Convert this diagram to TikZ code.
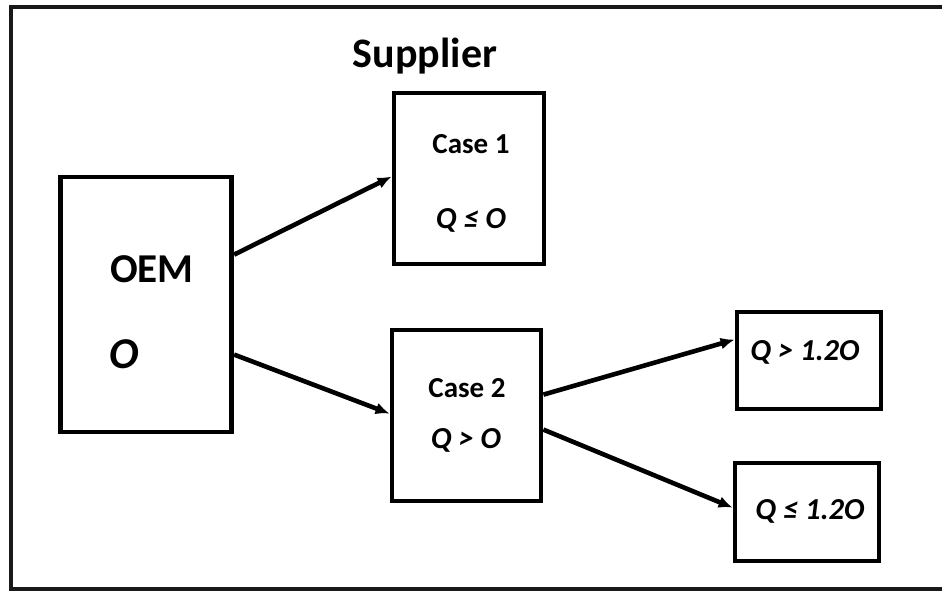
\documentclass[tikz,border=0pt]{standalone}
\usepackage{fontspec}
\setmainfont{Carlito}
\usetikzlibrary{arrows.meta}
\begin{document}
\begin{tikzpicture}[x=1pt,y=-1pt,
  box/.style={draw=black,line width=4.8pt,inner sep=0pt,fill=white},
  lbl/.style={anchor=base,inner sep=0pt,font=\bfseries\fontsize{29}{31}\selectfont},
  qlbl/.style={anchor=base,inner sep=0pt,font=\bfseries\itshape\fontsize{30.5}{32}\selectfont},
  big/.style={anchor=base,inner sep=0pt,font=\bfseries\fontsize{41}{44}\selectfont},
  flow/.style={draw=black,line width=4.6pt,-{Latex[length=14pt,width=12pt]}}]
\useasboundingbox (0,0) rectangle (942,590);
\clip (0,0) rectangle (942,590);
% outer frame (its right side lies beyond the page edge)
\draw[line width=4.4pt,color=black!90] (11,7) rectangle (970,589);

% boxes
\node[box,minimum width=171.5pt,minimum height=255pt] (oem) at (146,304.5) {};
\node[box,minimum width=150pt,minimum height=171pt] (case1) at (469,178.5) {};
\node[box,minimum width=149pt,minimum height=171pt] (case2) at (466.5,415.5) {};
\node[box,minimum width=144pt,minimum height=97pt] (hi) at (809,360.5) {};
\node[box,minimum width=144pt,minimum height=98pt] (lo) at (807,512) {};

% texts
\node[anchor=base,inner sep=0pt,font=\bfseries\fontsize{42}{45}\selectfont] (supplier) at (425,67) {Supplier};
\node[big] (oemt) at (152,282) {OEM};
\node[big,font=\bfseries\itshape\fontsize{44}{46}\selectfont] (ovar) at (124,368) {O};
\node[lbl] (c1t) at (471,153) {Case 1};
\node[qlbl] (c1q) at (471,228) {Q ≤ O};
\node[lbl] (c2t) at (467,397) {Case 2};
\node[qlbl] (c2q) at (466,448) {Q > O};
\node[qlbl] (hit) at (805,360) {Q > 1.2O};
\node[qlbl] (lot) at (810,519) {Q ≤ 1.2O};

% connectors
\draw[flow] ([yshift=-80pt]oem.north east) -- ([yshift=-86pt]case1.north west);
\draw[flow] ([yshift=-180pt]oem.north east) -- ([yshift=-86pt]case2.north west);
\draw[flow] ([yshift=-67pt]case2.north east) -- ([yshift=-30pt]hi.north west);
\draw[flow] ([yshift=-102pt]case2.north east) -- ([yshift=-47pt]lo.north west);
\end{tikzpicture}
\end{document}
